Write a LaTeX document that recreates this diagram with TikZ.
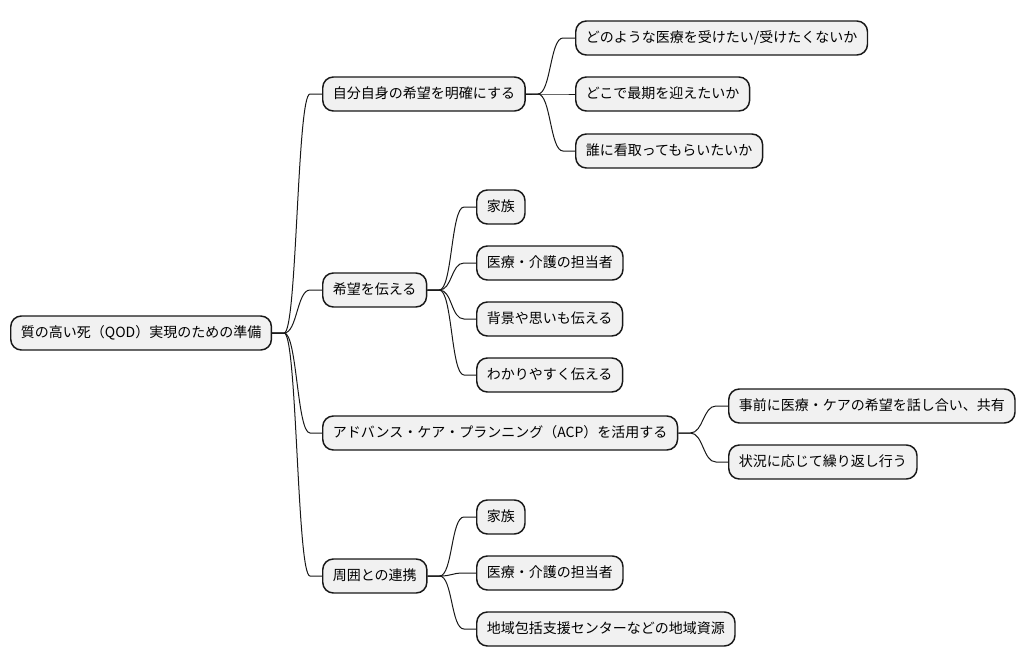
\documentclass[tikz,border=0pt]{standalone}
\usepackage{fontspec}
\usepackage{xcolor}
\usepackage{tikz}
\usetikzlibrary{positioning,calc}
\newfontfamily\jpfont{Noto Sans CJK JP}
\definecolor{boxfill}{HTML}{F1F1F1}
\definecolor{boxline}{HTML}{181818}

\begin{document}
\begin{tikzpicture}[
    x=0.75pt, y=-0.75pt,
    topic/.style={rectangle, draw=boxline, fill=boxfill, line width=1.1pt, rounded corners=8pt, minimum height=25.5pt, inner xsep=7.6pt, inner ysep=0pt, anchor=west, font=\jpfont\fontsize{10.5}{12}\selectfont, text height=8.5pt, text depth=1.5pt},
    link/.style={draw=boxline, line width=0.75pt, to path={-- ($(\tikztostart)+(12,0)$) .. controls ($(\tikztostart)+(25,0)$) and ($(\tikztotarget)+(-25,0)$) .. ($(\tikztotarget)+(-12,0)$) -- (\tikztotarget)}},
]
\useasboundingbox (0,0) rectangle (1025,668);

% Root and the four main branches.
\node[topic] (root) at (10,333) {質の高い死（QOD）実現のための準備};
\node[topic] (clear)  at (322,94)  {自分自身の希望を明確にする};
\node[topic] (tell)   at (322,290) {希望を伝える};
\node[topic] (acp)    at (322,433) {アドバンス・ケア・プランニング（ACP）を活用する};
\node[topic] (around) at (322,576) {周囲との連携};

% Leaves.
\node[topic] (clearA) at (575,38)  {どのような医療を受けたい/受けたくないか};
\node[topic] (clearB) at (575,94)  {どこで最期を迎えたいか};
\node[topic] (clearC) at (575,151) {誰に看取ってもらいたいか};

\node[topic] (tellA) at (476,207) {家族};
\node[topic] (tellB) at (476,263) {医療・介護の担当者};
\node[topic] (tellC) at (476,319) {背景や思いも伝える};
\node[topic] (tellD) at (476,375) {わかりやすく伝える};

\node[topic] (acpA) at (728,406) {事前に医療・ケアの希望を話し合い、共有};
\node[topic] (acpB) at (728,462) {状況に応じて繰り返し行う};

\node[topic] (aroundA) at (476,517) {家族};
\node[topic] (aroundB) at (476,573) {医療・介護の担当者};
\node[topic] (aroundC) at (476,629) {地域包括支援センターなどの地域資源};

% Branch lines.
\foreach \child in {clear,tell,acp,around}
  \draw[link] (root.east) to (\child.west);
\foreach \child in {clearA,clearB,clearC}
  \draw[link] (clear.east) to (\child.west);
\foreach \child in {tellA,tellB,tellC,tellD}
  \draw[link] (tell.east) to (\child.west);
\foreach \child in {acpA,acpB}
  \draw[link] (acp.east) to (\child.west);
\foreach \child in {aroundA,aroundB,aroundC}
  \draw[link] (around.east) to (\child.west);
\end{tikzpicture}
\end{document}
